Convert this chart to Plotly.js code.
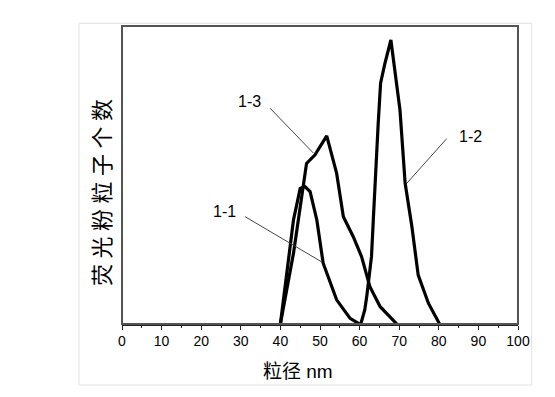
<!DOCTYPE html>
<html>
<head>
<meta charset="utf-8">
<script src="https://cdn.plot.ly/plotly-3.0.1.min.js"></script>
<style>html,body{margin:0;padding:0;background:#fff;}</style>
</head>
<body>
<div id="chart" style="width:555px;height:397px;"></div>
<script>
// Series 1-1
const x11 = [40, 43.3, 45, 46.2, 47.5, 49.2, 50.8, 54.2, 57.6, 60];
const y11 = [0, 34.9, 45.5, 46.1, 44.4, 34.9, 20.4, 8.1, 1.9, 0];
// Series 1-3
const x13 = [40, 43.3, 46.6, 48.7, 51.7, 54.2, 55.9, 58.4, 60.5, 62.6, 65.2, 69.4];
const y13 = [0, 23.7, 53.9, 56.7, 63.1, 50.6, 36, 29.3, 22.6, 12.5, 5.8, 0];
// Series 1-2
const x12 = [60.3, 61.3, 61.8, 63, 63.5, 63.9, 64.7, 65.3, 66.4, 67.9, 70.2, 71.5, 73.2, 74.8, 77.4, 80.2];
const y12 = [0, 4.7, 9.2, 22.6, 36, 48.3, 67.3, 80.8, 87.5, 95.3, 71.8, 47.2, 32.7, 16.4, 6.9, 0];
// Labels
const seriesNames = ['1-1', '1-2', '1-3'];
const xTickVals = [0, 10, 20, 30, 40, 50, 60, 70, 80, 90, 100];
const xTitle = '粒径 nm';
const yTitle = '荧\u2005光\u2005粉\u2005粒\u2005子\u2005个\u2005数';

const lineStyle = {color: '#000', width: 3.2};
const traces = [
  {x: x11, y: y11, name: seriesNames[0], mode: 'lines', line: lineStyle, hoverinfo: 'skip'},
  {x: x12, y: y12, name: seriesNames[1], mode: 'lines', line: lineStyle, hoverinfo: 'skip'},
  {x: x13, y: y13, name: seriesNames[2], mode: 'lines', line: lineStyle, hoverinfo: 'skip'}
];

const txtFont = {family: 'Arial, "Liberation Sans", sans-serif', size: 16, color: '#000'};
const leader = {color: '#444', width: 1};

const layout = {
  width: 555, height: 397,
  margin: {l: 122, r: 37, t: 26, b: 73, pad: 0},
  paper_bgcolor: '#fff', plot_bgcolor: '#fff',
  showlegend: false,
  xaxis: {
    range: [0, 100], tickvals: xTickVals, ticks: 'outside', ticklen: 4, tickwidth: 1, tickcolor: '#222',
    minor: {dtick: 5, tick0: 0, ticks: 'outside', ticklen: 2, tickcolor: '#222'},
    showgrid: false, zeroline: false, showline: true, linecolor: '#222', linewidth: 1.5,
    tickfont: {family: 'Arial, "Liberation Sans", sans-serif', size: 14, color: '#000'},
    fixedrange: true
  },
  yaxis: {
    range: [0, 100], showticklabels: false, ticks: '', showgrid: false, zeroline: false, showline: false,
    fixedrange: true
  },
  shapes: [
    {type: 'rect', xref: 'paper', yref: 'paper', x0: -0.1086, x1: 1.0346, y0: -0.2047, y1: 1.009,
     line: {color: '#e2e2e2', width: 1}, layer: 'below'},
    {type: 'rect', xref: 'paper', yref: 'paper', x0: 0, x1: 1, y0: 0, y1: 1,
     line: {color: '#555', width: 2}},
    {type: 'line', xref: 'x', yref: 'y', x0: 37.4, y0: 72.4, x1: 48.3, y1: 57.4, line: leader},
    {type: 'line', xref: 'x', yref: 'y', x0: 31.1, y0: 36, x1: 50.6, y1: 20.7, line: leader},
    {type: 'line', xref: 'x', yref: 'y', x0: 82, y0: 62.2, x1: 71.9, y1: 47.2, line: leader}
  ],
  annotations: [
    {x: 32.1, y: 74.6, xref: 'x', yref: 'y', text: seriesNames[2], showarrow: false, font: txtFont},
    {x: 87.9, y: 62.9, xref: 'x', yref: 'y', text: seriesNames[1], showarrow: false, font: txtFont},
    {x: 26, y: 37.7, xref: 'x', yref: 'y', text: seriesNames[0], showarrow: false, font: txtFont},
    {x: 0.444, y: -0.16, xref: 'paper', yref: 'paper', xanchor: 'center', yanchor: 'middle',
     text: xTitle, showarrow: false,
     font: {family: 'Arial, "Noto Sans CJK SC", sans-serif', size: 19, color: '#000'}},
    {x: -0.0556, y: 0.443, xref: 'paper', yref: 'paper', xanchor: 'center', yanchor: 'middle',
     text: yTitle, showarrow: false, textangle: -90,
     font: {family: '"Noto Sans CJK SC", sans-serif', size: 22, color: '#000'}}
  ]
};

Plotly.newPlot('chart', traces, layout, {displayModeBar: false, staticPlot: true});
</script>
</body>
</html>
